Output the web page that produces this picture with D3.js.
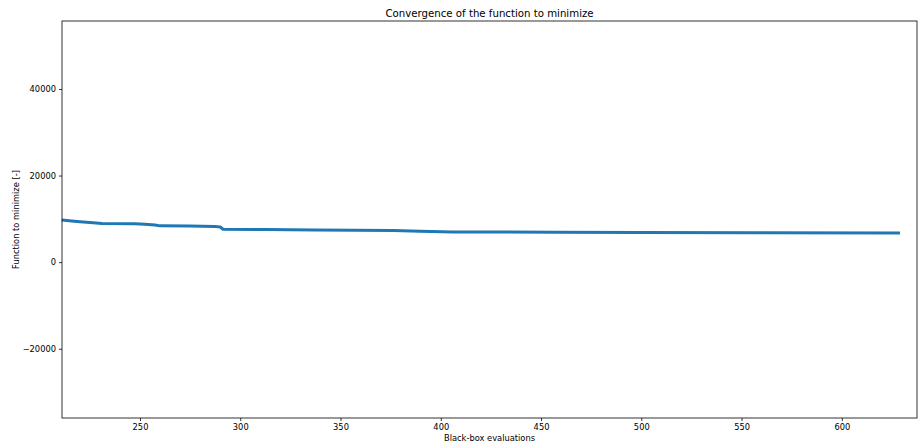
<!DOCTYPE html>
<html>
<head>
<meta charset="utf-8">
<script src="https://cdn.jsdelivr.net/npm/d3@7"></script>
<style>
  body { margin: 0; background: #fff; }
  svg { display: block; font-family: "DejaVu Sans", sans-serif; }
</style>
</head>
<body>
<svg id="chart"></svg>
<script>
// best-so-far objective value per black-box evaluation
const evaluations = [211, 216, 220, 225, 231, 247.5, 252.5, 257.5, 260, 275, 287.4, 290, 291.4,
                     312.3, 337.3, 376.2, 389.7, 406, 457, 499.4, 559, 629]
const bestValues = [9760, 9530, 9350, 9160, 8930, 8880, 8770, 8580, 8380, 8350, 8260, 8120, 7610,
                    7550, 7450, 7310, 7150, 6990, 6900, 6830, 6780, 6760]
const xTicks = [250, 300, 350, 400, 450, 500, 550, 600]
const yTicks = [-20000, 0, 20000, 40000]

let width = 918
let height = 446
let margin = { top: 21, right: 1, bottom: 28, left: 62 }
let bodyWidth = width - margin.left - margin.right
let bodyHeight = height - margin.top - margin.bottom

let svg = d3.select("#chart").attr("width", width).attr("height", height)

let xScale = d3.scaleLinear().domain([211.1, 637.5]).range([0, bodyWidth])
let yScale = d3.scaleLinear().domain([-36000, 55700]).range([bodyHeight, 0])

let body = svg.append("g").attr("transform", `translate(${margin.left},${margin.top})`)

let data = evaluations.map((e, i) => ({ x: e, y: bestValues[i] }))

let line = d3.line().x(d => xScale(d.x)).y(d => yScale(d.y))

body.append("path")
    .datum(data)
    .attr("d", line)
    .attr("fill", "none")
    .attr("stroke", "#1f77b4")
    .attr("stroke-width", 3)
    .attr("stroke-linejoin", "round")

// matplotlib style: no thousands separator, unicode minus
let fmt = d => d < 0 ? "\u2212" + Math.abs(d) : String(d)

let xAxis = d3.axisBottom(xScale).tickValues(xTicks).tickFormat(fmt).tickSize(3).tickPadding(3)
let yAxis = d3.axisLeft(yScale).tickValues(yTicks).tickFormat(fmt).tickSize(3).tickPadding(3)

let gx = body.append("g").attr("transform", `translate(0,${bodyHeight})`).call(xAxis)
let gy = body.append("g").call(yAxis)

for (let g of [gx, gy]) {
    g.select(".domain").remove()
    g.selectAll("text").attr("font-size", 8.3).attr("font-family", "DejaVu Sans").attr("fill", "#000")
    g.selectAll("line").attr("stroke", "#000").attr("stroke-width", 0.8)
}

// frame
body.append("rect")
    .attr("width", bodyWidth).attr("height", bodyHeight)
    .attr("fill", "none").attr("stroke", "#000").attr("stroke-width", 0.8)

svg.append("text")
   .attr("x", margin.left + bodyWidth / 2).attr("y", 17)
   .attr("text-anchor", "middle").attr("font-size", 10.2)
   .text("Convergence of the function to minimize")

svg.append("text")
   .attr("x", margin.left + bodyWidth / 2).attr("y", 441)
   .attr("text-anchor", "middle").attr("font-size", 8.3)
   .text("Black-box evaluations")

svg.append("text")
   .attr("transform", `translate(19,${margin.top + bodyHeight / 2}) rotate(-90)`)
   .attr("text-anchor", "middle").attr("font-size", 8.3)
   .text("Function to minimize [-]")
</script>
</body>
</html>
